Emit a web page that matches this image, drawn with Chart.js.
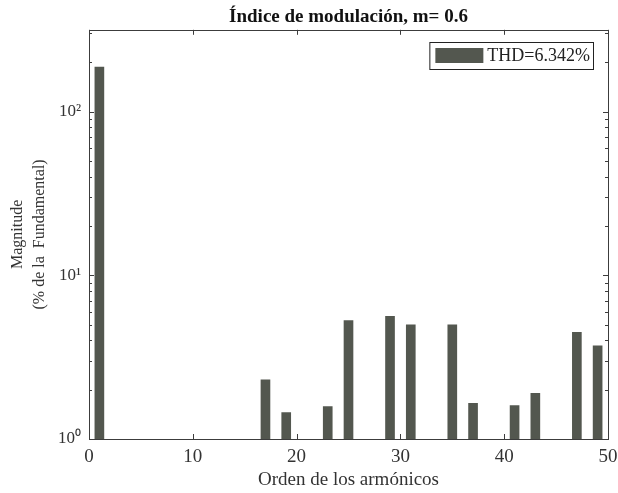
<!DOCTYPE html>
<html>
<head>
<meta charset="utf-8">
<script src="https://cdn.jsdelivr.net/npm/chart.js@4/dist/chart.umd.min.js"></script>
<style>
  html, body { margin: 0; padding: 0; background: #fff; }
  #wrap { width: 618px; height: 493px; }
</style>
</head>
<body>
<div id="wrap"><canvas id="chart-area" width="618" height="493"></canvas></div>
<script>
// harmonic orders and magnitudes (% of fundamental)
var harmonics = [1, 17, 19, 23, 25, 29, 31, 35, 37, 41, 43, 47, 49];
var magnitudes = [187, 2.30, 1.45, 1.58, 5.28, 5.61, 4.99, 4.99, 1.65, 1.60, 1.90, 4.48, 3.71];
var seriesLabel = 'THD=6.342%';
var xTicks = [0, 10, 20, 30, 40, 50];
var yTickValues = [1, 10, 100];
var yTickLabels = ['10\u2070', '10\u00b9', '10\u00b2'];

var frameColor = '#3c3c3c';
var barColor = '#53574f';
var serif = 'Liberation Serif';

// frame, inward ticks (matlab style) and a boxed legend inside the plot
var matlabAxes = {
	id: 'matlabAxes',
	afterDraw: function(chart) {
		var ctx = chart.ctx;
		var a = chart.chartArea;
		var xs = chart.scales.x, ys = chart.scales.y;
		ctx.save();
		ctx.strokeStyle = frameColor;
		ctx.lineWidth = 1;
		ctx.strokeRect(Math.round(a.left) + 0.5, Math.round(a.top) + 0.5,
			Math.round(a.right - a.left), Math.round(a.bottom - a.top));
		ctx.beginPath();
		xTicks.forEach(function(v) {
			var px = Math.round(xs.getPixelForValue(v)) + 0.5;
			ctx.moveTo(px, a.bottom); ctx.lineTo(px, a.bottom - 5);
			ctx.moveTo(px, a.top); ctx.lineTo(px, a.top + 5);
		});
		var top = ys.max;
		for (var d = 1; d <= top; d *= 10) {
			for (var m = 1; m < 10; m++) {
				var v = d * m;
				if (v > top) break;
				var py = Math.round(ys.getPixelForValue(v)) + 0.5;
				var len = (m === 1) ? 5 : 3;
				ctx.moveTo(a.left, py); ctx.lineTo(a.left + len, py);
				ctx.moveTo(a.right, py); ctx.lineTo(a.right - len, py);
			}
		}
		ctx.stroke();

		// legend
		var ds = chart.data.datasets[0];
		ctx.font = '18px "' + serif + '"';
		var tw = ctx.measureText(ds.label).width;
		var boxRight = Math.round(a.right) - 15;
		var boxTop = Math.round(a.top) + 12;
		var textLeft = boxRight - 3 - tw;
		var swRight = textLeft - 4;
		var swLeft = swRight - 48;
		var boxLeft = swLeft - 6;
		ctx.fillStyle = '#fff';
		ctx.fillRect(boxLeft, boxTop, boxRight - boxLeft, 27);
		ctx.strokeStyle = '#222';
		ctx.strokeRect(boxLeft + 0.5, boxTop + 0.5, boxRight - boxLeft, 27);
		ctx.fillStyle = ds.backgroundColor;
		ctx.fillRect(swLeft, boxTop + 6, 48, 15);
		ctx.fillStyle = '#222';
		ctx.textBaseline = 'middle';
		ctx.textAlign = 'left';
		ctx.fillText(ds.label, textLeft, boxTop + 14);
		ctx.restore();
	}
};

var config = {
	type: 'bar',
	data: {
		datasets: [{
			label: seriesLabel,
			data: harmonics.map(function(h, i) { return { x: h, y: magnitudes[i] }; }),
			backgroundColor: barColor,
			borderWidth: 0,
			barThickness: 9
		}]
	},
	options: {
		responsive: false,
		animation: false,
		layout: { padding: { left: 0, right: 0, top: 0, bottom: 0 } },
		plugins: {
			title: {
				display: true,
				text: 'Índice de modulación, m= 0.6',
				fullSize: false,
				color: '#111',
				font: { family: serif, size: 19, weight: 'bold' },
				padding: { top: 6, bottom: 1 }
			},
			legend: { display: false },
			tooltip: { enabled: false }
		},
		scales: {
			x: {
				type: 'linear',
				min: 0,
				max: 50,
				offset: false,
				grid: { display: false, drawTicks: false },
				border: { display: false },
				afterBuildTicks: function(s) { s.ticks = xTicks.map(function(v) { return { value: v }; }); },
				afterFit: function(s) { s.height = 54; s.paddingRight = 10; },
				ticks: {
					padding: 7,
					maxRotation: 0,
					color: '#333',
					font: { family: serif, size: 19 }
				},
				title: {
					display: true,
					text: 'Orden de los armónicos',
					color: '#333',
					font: { family: serif, size: 19 },
					padding: { top: 0, bottom: 2 }
				}
			},
			y: {
				type: 'logarithmic',
				min: 1,
				max: 316,
				grid: { display: false, drawTicks: false },
				border: { display: false },
				afterBuildTicks: function(s) { s.ticks = yTickValues.map(function(v) { return { value: v }; }); },
				afterFit: function(s) { s.width = 89; },
				ticks: {
					padding: 8,
					color: '#333',
					font: { family: serif, size: 17 },
					callback: function(v) {
						var i = yTickValues.indexOf(v);
						return i >= 0 ? yTickLabels[i] : '';
					}
				},
				title: {
					display: true,
					text: ['Magnitude', '(% de la  Fundamental)'],
					color: '#333',
					font: { family: serif, size: 16, lineHeight: 1.375 },
					padding: { top: 7, bottom: 0 }
				}
			}
		}
	},
	plugins: [matlabAxes]
};

var ctx = document.getElementById('chart-area').getContext('2d');
window.myBar = new Chart(ctx, config);
</script>
</body>
</html>
